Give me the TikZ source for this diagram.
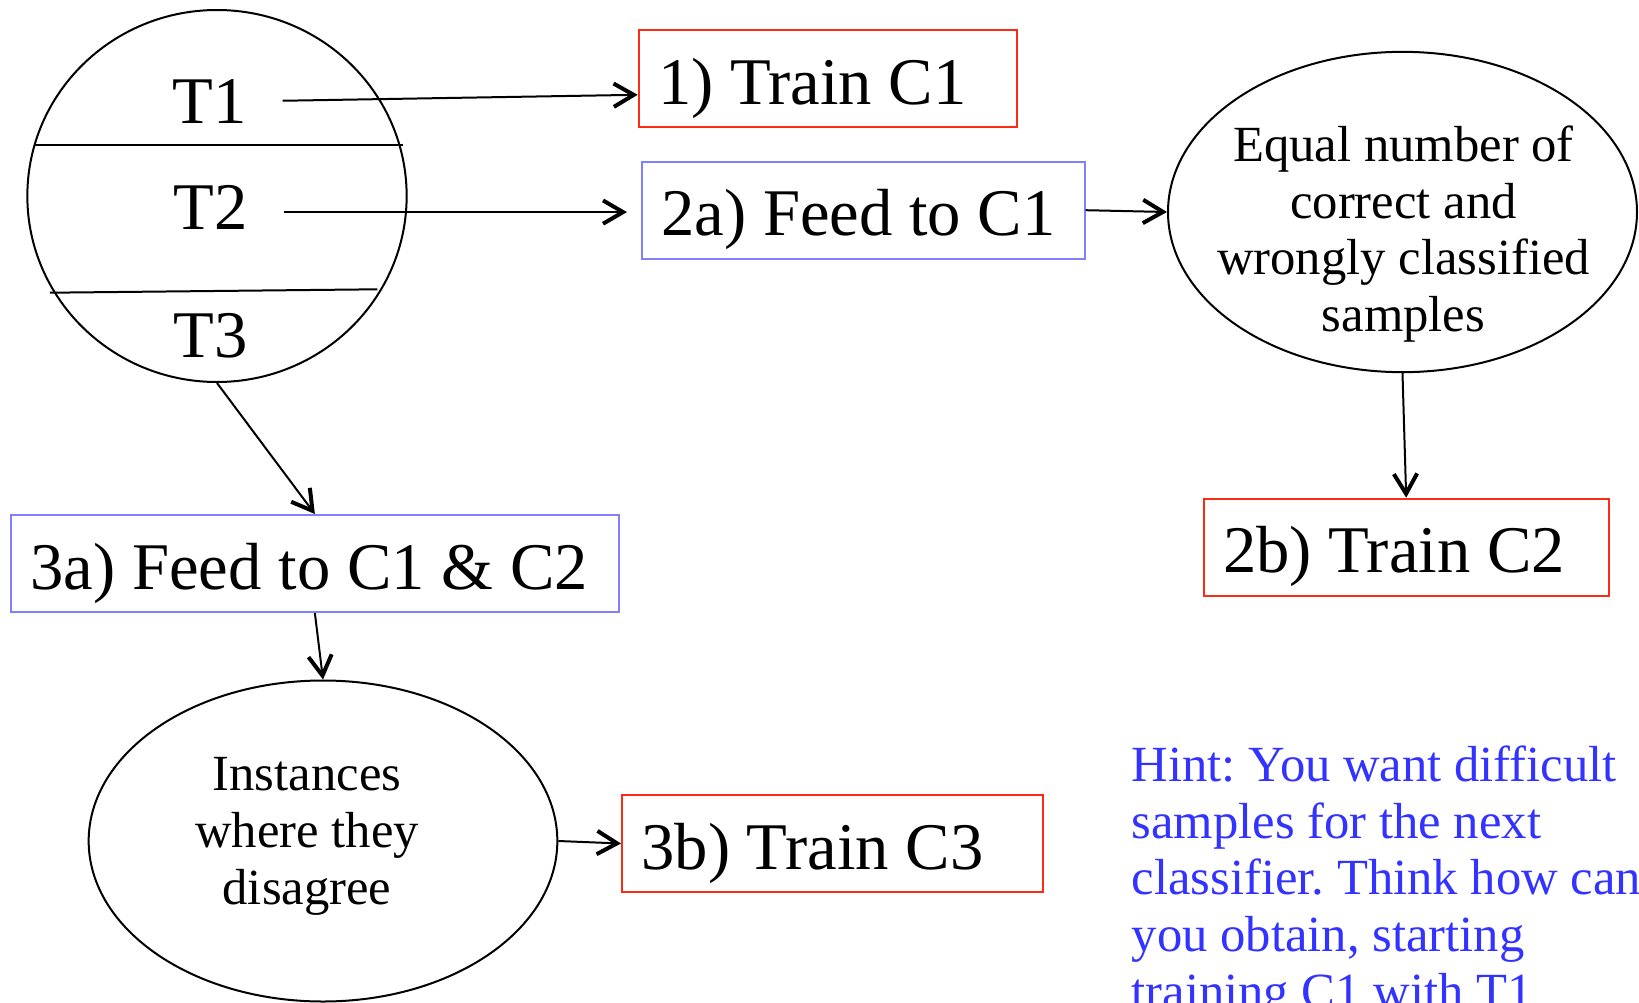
\documentclass[tikz,border=0pt]{standalone}
\usepackage{fontspec}
\setmainfont{Liberation Serif}
\frenchspacing
\usetikzlibrary{shapes.geometric,arrows.meta}
\definecolor{boxred}{RGB}{250,45,20}
\definecolor{boxblue}{RGB}{128,128,255}
\definecolor{hintblue}{RGB}{51,51,255}
\tikzset{
  bigfont/.style={font=\fontsize{20}{24}\selectfont},
  smallfont/.style={font=\fontsize{15.2}{17}\selectfont},
  stepbox/.style={draw=#1, line width=0.6pt, anchor=north west, inner xsep=5.8pt, inner ysep=0pt,
    text height=22.2pt, text depth=6.9pt, bigfont},
  oval/.style={draw, ellipse, line width=0.6pt, inner sep=0pt},
  setlabel/.style={bigfont, anchor=base, inner xsep=10.5pt, inner ysep=0pt, text height=13.35pt, text depth=0pt},
  arr/.style={line width=0.6pt, -{Straight Barb[length=6pt,width=7pt,line width=1.2pt]}}
}
\newcommand{\boxtext}[2]{\makebox[#1][l]{#2}}
\begin{document}
\begin{tikzpicture}[x=0.3pt, y=-0.3pt]
    \useasboundingbox (0,0) rectangle (1639,1003);
    % training set split in three parts
    \node[oval, minimum width=113.8pt, minimum height=111.6pt] (data) at (217,196) {};
    \draw[line width=0.6pt] (35,145) -- (403,145);
    \draw[line width=0.6pt] (50,292.7) -- (377.3,289.3);
    \node[setlabel] (t1) at (210,123) {T1};
    \node[setlabel] (t2) at (211,229) {T2};
    \node[setlabel] (t3) at (210.5,357) {T3};
    % steps
    \node[stepbox=boxred] (train1) at (637.7,29.3) {\boxtext{101.8pt}{1) Train C1}};
    \node[stepbox=boxblue] (feed1) at (641,160.7) {\boxtext{121.2pt}{2a) Feed to C1}};
    \node[oval, minimum width=140.7pt, minimum height=96.1pt] (eq) at (1402.5,212) {};
    \node[smallfont, align=center, anchor=north, inner sep=0pt] (eqtext) at (1403.5,125)
      {Equal number of\\correct and\\wrongly classified\\samples};
    \node[stepbox=boxred] (train2) at (1202.7,497.7) {\boxtext{109.9pt}{2b) Train C2}};
    \node[stepbox=boxblue] (feed2) at (10.2,514) {\boxtext{170.6pt}{3a) Feed to C1 \& C2}};
    \node[oval, minimum width=140.6pt, minimum height=96.3pt] (dis) at (323,841) {};
    \node[smallfont, align=center, anchor=north, inner sep=0pt] (distext) at (307,757)
      {Instances\\where they\\disagree};
    \node[stepbox=boxred] (train3) at (621,794) {\boxtext{114.6pt}{3b) Train C3}};
    % hint
    \node[smallfont, text=hintblue, align=left, anchor=north west, inner sep=0pt] (hint) at (1131,745)
      {Hint: You want difficult\\samples for the next\\classifier. Think how can\\you obtain, starting\\training C1 with T1};
    % arrows
    \draw[arr] (t1.east) -- ([yshift=-4.8pt]train1.west);
    \draw[arr, shorten >=4.2pt] ([yshift=-1.6pt]t2.east) -- ([yshift=-1.6pt]t2.east -| feed1.west);
    \draw[arr] (feed1.east) -- (eq.west);
    \draw[arr] (eq.south) -- (train2.north);
    \draw[arr] (data.south) -- (feed2.north);
    \draw[arr] (feed2.south) -- (dis.north);
    \draw[arr] (dis.east) -- (train3.west);
\end{tikzpicture}
\end{document}
